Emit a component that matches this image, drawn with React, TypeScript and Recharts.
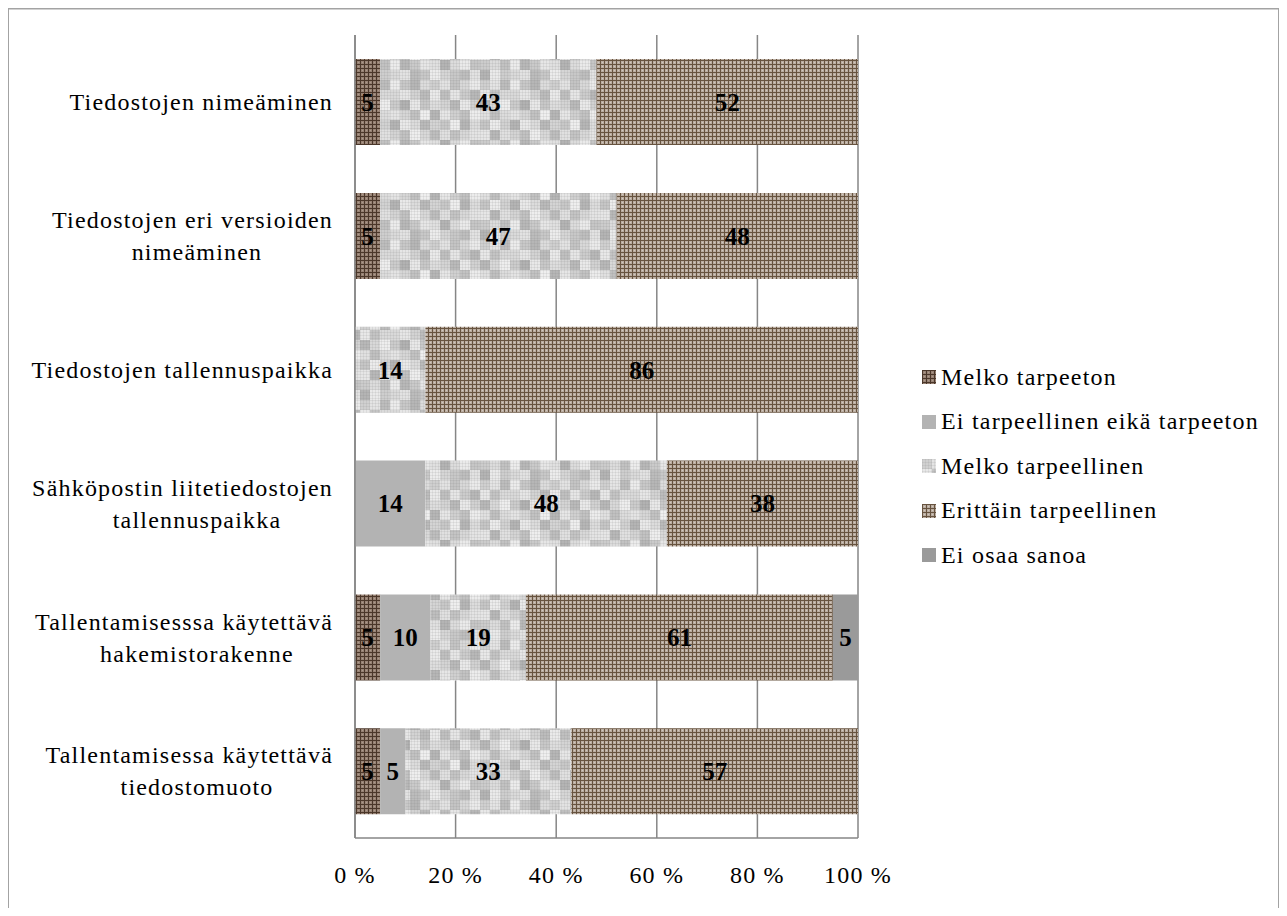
import { BarChart, Bar, XAxis, YAxis, CartesianGrid, LabelList } from 'recharts';

// survey answers, percent of respondents per item
const categories = [
    'Tiedostojen nimeäminen',
    'Tiedostojen eri versioiden\nnimeäminen',
    'Tiedostojen tallennuspaikka',
    'Sähköpostin liitetiedostojen\ntallennuspaikka',
    'Tallentamisesssa käytettävä\nhakemistorakenne',
    'Tallentamisessa käytettävä\ntiedostomuoto',
];
const melkoTarpeeton = [5, 5, 0, 0, 5, 5];
const eiTarpeellinen = [0, 0, 0, 14, 10, 5];
const melkoTarpeellinen = [43, 47, 14, 48, 19, 33];
const erittainTarpeellinen = [52, 48, 86, 38, 61, 57];
const eiOsaaSanoa = [0, 0, 0, 0, 5, 0];
const xTicks = [0, 20, 40, 60, 80, 100];

const series = [
    { key: 'mt', name: 'Melko tarpeeton', fill: 'url(#pDarkGrid)' },
    { key: 'et', name: 'Ei tarpeellinen eikä tarpeeton', fill: '#b3b3b3' },
    { key: 'ml', name: 'Melko tarpeellinen', fill: 'url(#pMosaic)' },
    { key: 'er', name: 'Erittäin tarpeellinen', fill: 'url(#pLightGrid)' },
    { key: 'eo', name: 'Ei osaa sanoa', fill: '#9a9a9a' },
];

const data = categories.map((name, i) => ({
    name,
    mt: melkoTarpeeton[i],
    et: eiTarpeellinen[i],
    ml: melkoTarpeellinen[i],
    er: erittainTarpeellinen[i],
    eo: eiOsaaSanoa[i],
}));

// gray levels for the mosaic fill, one row per line
const mosaicRows = [
    'd0 e4 bd ec c8 b6 dc cf e2 c4 d8 ea',
    'e8 c4 da d9 e6 d3 bc ea c0 e6 cc b8',
    'b8 d8 ee cc b2 e8 c8 dd d4 ba e9 d2',
    'e0 c0 dc e4 d6 c2 ef b6 e6 d0 c2 ec',
    'c6 ec d2 b4 e9 dc ba d4 c8 ee b6 dc',
    'e6 b8 e0 d4 c2 ee d8 be e0 c4 d8 e4',
    'cc dc c2 ec b8 ca e6 e0 b4 dc ea c6',
    'b4 ea ce da e2 bc c8 ec d6 c8 be e2',
];

const FONT = '"Liberation Serif", "Times New Roman", serif';
const CELL = 10;
const MOSAIC_W = CELL * 12;
const MOSAIC_H = CELL * 8;
const textStyle = { fontFamily: FONT, fontSize: 24, letterSpacing: 1.2, fill: '#000' };

function Patterns() {
    return (
        <defs>
            <pattern id="pDarkGrid" width={4} height={4} patternUnits="userSpaceOnUse">
                <rect width={4} height={4} fill="#978274" />
                <rect x={2} y={2} width={1} height={1} fill="#ad9a8c" />
                <rect width={1} height={4} fill="#4b372a" />
                <rect width={4} height={1} fill="#4b372a" />
            </pattern>
            <pattern id="pLightGrid" width={4} height={4} patternUnits="userSpaceOnUse">
                <rect width={4} height={4} fill="#baada1" />
                <rect x={2} y={2} width={1} height={1} fill="#d3c8be" />
                <rect width={1} height={4} fill="#67533f" />
                <rect width={4} height={1} fill="#67533f" />
            </pattern>
            <pattern id="pMosaic" width={MOSAIC_W} height={MOSAIC_H} patternUnits="userSpaceOnUse">
                {mosaicRows.map((row, r) =>
                    row.split(' ').map((g, c) => (
                        <rect
                            key={`${r}-${c}`}
                            x={c * CELL}
                            y={r * CELL}
                            width={CELL}
                            height={CELL}
                            fill={`#${g}${g}${g}`}
                        />
                    ))
                )}
                {Array.from({ length: 40 }, (_, k) => (
                    <g key={`l${k}`}>
                        <rect x={k * 3} y={0} width={1} height={MOSAIC_H} fill="#7a7a7a" opacity={0.12} />
                        <rect x={0} y={k * 3} width={MOSAIC_W} height={1} fill="#7a7a7a" opacity={0.12} />
                    </g>
                ))}
            </pattern>
        </defs>
    );
}

function CategoryTick({ x, y, payload }: any) {
    const lines = String(payload.value).split('\n');
    if (lines.length === 1) {
        return (
            <text x={x - 14} y={y} dy="0.35em" textAnchor="end" {...textStyle}>
                {lines[0]}
            </text>
        );
    }
    return (
        <g>
            <text x={x - 14} y={y - 16} dy="0.35em" textAnchor="end" {...textStyle}>
                {lines[0]}
            </text>
            <text x={x - 150} y={y + 16} dy="0.35em" textAnchor="middle" {...textStyle}>
                {lines[1]}
            </text>
        </g>
    );
}

function Legend() {
    return (
        <div
            style={{
                position: 'absolute',
                left: 922,
                top: 355,
                fontFamily: FONT,
                fontSize: 24,
                letterSpacing: 1.2,
            }}
        >
            {series.map((s) => (
                <div key={s.key} style={{ display: 'flex', alignItems: 'center', height: 44.5 }}>
                    <svg width={14} height={14} style={{ marginRight: 5 }}>
                        <Patterns />
                        <rect width={14} height={14} fill={s.fill} />
                    </svg>
                    <span>{s.name}</span>
                </div>
            ))}
        </div>
    );
}

export default function App() {
    return (
        <div style={{ position: 'relative', width: 1287, height: 916, margin: -8, background: '#fff', overflow: 'hidden' }}>
            <div style={{ position: 'absolute', left: 0, top: 0 }}>
                <BarChart
                    width={1287}
                    height={916}
                    data={data}
                    layout="vertical"
                    margin={{ top: 35, right: 429, bottom: 30, left: 0 }}
                    barCategoryGap="18%"
                >
                    <Patterns />
                    <CartesianGrid horizontal={false} stroke="#868686" strokeWidth={1.5} />
                    <XAxis
                        type="number"
                        domain={[0, 100]}
                        ticks={xTicks}
                        tickFormatter={(v) => `${v} %`}
                        height={48}
                        axisLine={{ stroke: '#868686', strokeWidth: 1.5 }}
                        tickLine={false}
                        tickMargin={22}
                        tick={textStyle}
                    />
                    <YAxis
                        type="category"
                        dataKey="name"
                        width={355}
                        axisLine={{ stroke: '#868686', strokeWidth: 1.5 }}
                        tickLine={false}
                        tick={<CategoryTick />}
                    />
                    {series.map((s) => (
                        <Bar key={s.key} dataKey={s.key} name={s.name} stackId="a" fill={s.fill} isAnimationActive={false}>
                            <LabelList
                                dataKey={s.key}
                                position="center"
                                formatter={(v: any) => (Number(v) > 0 ? v : '')}
                                style={{ fontFamily: FONT, fontSize: 25, fontWeight: 700, fill: '#000' }}
                            />
                        </Bar>
                    ))}
                </BarChart>
            </div>
            <Legend />
            {/* outer frame, open at the bottom */}
            <svg
                width={1287}
                height={916}
                style={{ position: 'absolute', left: 0, top: 0, pointerEvents: 'none' }}
            >
                <path d="M8 916 V8.5 H1279 V916" fill="none" stroke="#a3a3a3" strokeWidth={2} />
            </svg>
        </div>
    );
}
